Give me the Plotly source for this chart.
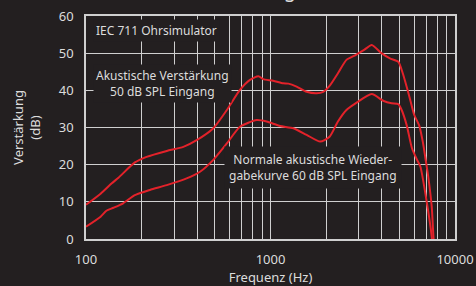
import plotly.graph_objects as go

# Data
freq_upper = [100, 120, 138, 150, 184, 213, 274, 337, 398, 490, 580, 683, 774, 860, 912,
              1034, 1172, 1250, 1385, 1570, 1780, 1930, 2090, 2320, 2580, 2890, 3200, 3540,
              3990, 4440, 4930, 5210, 5660, 6000, 6400, 6700, 6900, 7160, 7480, 7640, 7750]
gain_upper = [9.2, 12.2, 15.0, 16.5, 20.6, 22.1, 23.7, 24.8, 26.6, 29.8, 34.7, 40.1, 42.8, 43.8, 43.0,
              42.6, 41.9, 41.8, 41.0, 39.6, 39.2, 39.6, 41.2, 44.6, 48.2, 49.5, 50.8, 52.2,
              50.0, 48.6, 47.7, 44.6, 38.3, 33.5, 30.5, 26.0, 22.0, 16.8, 8.7, 0.6, -4.0]

freq_lower = [100, 120, 129, 141, 159, 184, 222, 274, 351, 415, 490, 580, 683, 842, 953,
              1127, 1330, 1570, 1860, 2090, 2320, 2580, 2890, 3540, 4080, 4530, 4930, 5140,
              5480, 5840, 6200, 6490, 7000, 7480, 7600]
gain_lower = [3.3, 6.0, 7.6, 8.4, 9.6, 11.8, 13.2, 14.5, 16.3, 18.1, 21.3, 25.7, 30.2, 32.0, 31.6,
              30.4, 29.8, 28.0, 26.2, 27.5, 31.6, 34.7, 36.5, 39.0, 37.2, 36.5, 36.3, 34.7,
              30.5, 24.5, 21.5, 19.5, 10.5, 0.6, -4.0]

x_tickvals = [100, 200, 300, 400, 500, 600, 700, 800, 900, 1000, 2000, 3000, 4000, 5000,
              6000, 7000, 8000, 9000, 10000]
x_ticktext = ["100", "", "", "", "", "", "", "", "", "1000", "", "", "", "", "", "", "", "", "10000"]
y_tickvals = [0, 10, 20, 30, 40, 50, 60]

BG = "#231f20"
GRID = "#cfcfcf"
TXT = "#dcdcdc"
RED = "#e3222a"
FONT = "Noto Sans"

fig = go.Figure()
fig.add_trace(go.Scatter(x=freq_upper, y=gain_upper, mode="lines",
                         line=dict(color=RED, width=2, shape="spline", smoothing=0.6),
                         showlegend=False, hoverinfo="skip"))
fig.add_trace(go.Scatter(x=freq_lower, y=gain_lower, mode="lines",
                         line=dict(color=RED, width=2, shape="spline", smoothing=0.6),
                         showlegend=False, hoverinfo="skip"))

ann_font = dict(family=FONT, size=12, color=TXT)
fig.add_annotation(x=2.038, y=56.2, xref="x", yref="y", xanchor="left", yanchor="middle",
                   text="IEC 711 Ohrsimulator", showarrow=False, font=ann_font,
                   bgcolor=BG, borderpad=2)
fig.add_annotation(x=2.4146, y=41.8, xref="x", yref="y", xanchor="center", yanchor="middle",
                   text="Akustische Verstärkung<br>50 dB SPL Eingang", showarrow=False,
                   font=ann_font, bgcolor=BG, borderpad=2, align="center")
fig.add_annotation(x=3.2304, y=19.2, xref="x", yref="y", xanchor="center", yanchor="middle",
                   text="Normale akustische Wieder-<br>gabekurve 60 dB SPL Eingang", showarrow=False,
                   font=ann_font, bgcolor=BG, borderpad=4, align="center")
# Title (mostly outside the visible page, as in the reference)
fig.add_annotation(x=(298 - 86) / 369, y=(239 - 5.5) / 223, xref="paper", yref="paper",
                   xanchor="right", yanchor="bottom", text="Verstärkung", showarrow=False,
                   font=dict(family=FONT, size=20, color=TXT))

fig.update_layout(
    width=476, height=286,
    margin=dict(l=86, r=21, t=16, b=47),
    paper_bgcolor=BG, plot_bgcolor=BG,
    font=dict(family=FONT, size=13, color=TXT),
    xaxis=dict(type="log", range=[2, 4], tickvals=x_tickvals, ticktext=x_ticktext,
               showgrid=True, gridcolor=GRID, gridwidth=1,
               showline=True, linecolor=GRID, linewidth=1.5, mirror=True,
               ticks="", zeroline=False, ticklabelstandoff=8, automargin=False,
               title=dict(text="Frequenz (Hz)", font=dict(size=13)),
               tickfont=dict(size=13, color=TXT)),
    yaxis=dict(range=[0, 60], tickvals=y_tickvals,
               showgrid=True, gridcolor=GRID, gridwidth=1,
               showline=True, linecolor=GRID, linewidth=1.5, mirror=True,
               ticks="", zeroline=False, ticklabelstandoff=8, automargin=False,
               title=dict(text="Verstärkung<br>(dB)", font=dict(size=13)),
               tickfont=dict(size=13, color=TXT)),
)

fig.write_html("out.html", config={"displayModeBar": False},
               post_script="document.body.style.margin='0';document.body.style.background='%s';" % BG)
